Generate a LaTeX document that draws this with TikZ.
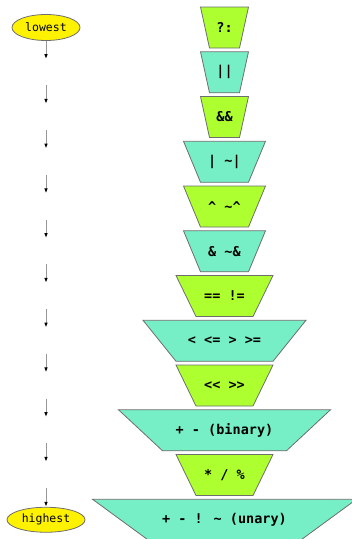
\documentclass[tikz,border=0pt]{standalone}
\usepackage{fontspec}
\usetikzlibrary{shapes.geometric,arrows.meta}
\newfontfamily\monofont{DejaVu Sans Mono}
\definecolor{gy}{RGB}{173,255,47}
\definecolor{aq}{RGB}{118,238,198}
\definecolor{edgec}{RGB}{110,110,110}
\definecolor{linec}{RGB}{150,150,150}
\newcommand\optrap[6]{% name, top y, half top width, inset, colour, label
  \filldraw[fill=#5, draw=edgec, line width=0.8pt]
    (224.5-#3,#2) -- (224.5+#3,#2) -- (224.5+#3-#4,#2+41) -- (224.5-#3+#4,#2+41) -- cycle;
  \node[oplab] (#1) at (224.5,#2+20.5) {#6};}
\begin{document}
\begin{tikzpicture}[x=1pt,y=-1pt,
  oplab/.style={font=\monofont\bfseries\fontsize{13.5}{15}\selectfont, inner sep=0pt},
  endell/.style={ellipse, fill=yellow, draw=edgec, line width=0.8pt, inner sep=0pt,
    font=\monofont\fontsize{11.5}{13}\selectfont},
  hid/.style={inner sep=0pt, minimum width=0pt, minimum height=26pt},
  arr/.style={draw=linec, line width=1pt, -{Latex[length=5pt,width=3.6pt,color=black,fill=black]}}]
\useasboundingbox (0,0) rectangle (352,539);
\clip (0,0) rectangle (352,539);
% trapezoids
\optrap{t1}{7}{24}{9}{gy}{?:}
\optrap{t2}{51.75}{24}{9}{aq}{||}
\optrap{t3}{96.5}{24}{9}{gy}{\&\&}
\optrap{t4}{141.25}{41}{17}{aq}{| \textasciitilde|}
\optrap{t5}{186}{41}{17}{gy}{\textasciicircum\ \textasciitilde\textasciicircum}
\optrap{t6}{230.75}{41}{17}{aq}{\& \textasciitilde\&}
\optrap{t7}{275.5}{48.5}{20}{gy}{== !=}
\optrap{t8}{320.25}{81.5}{33}{aq}{< <= > >=}
\optrap{t9}{365}{48.5}{20}{gy}{<< >>}
\optrap{t10}{409.75}{106}{44}{aq}{+ - (binary)}
\optrap{t11}{454.5}{48.5}{20}{gy}{* / \%}
\optrap{t12}{499.25}{132}{56}{aq}{+ - ! \textasciitilde\ (unary)}
% left chain
\node[endell, minimum width=68pt, minimum height=26pt] (lowest) at (46,27.5) {lowest};
\node[hid] (h2) at (46,72.25) {};
\node[hid] (h3) at (46,117) {};
\node[hid] (h4) at (46,161.75) {};
\node[hid] (h5) at (46,206.5) {};
\node[hid] (h6) at (46,251.25) {};
\node[hid] (h7) at (46,296) {};
\node[hid] (h8) at (46,340.75) {};
\node[hid] (h9) at (46,385.5) {};
\node[hid] (h10) at (46,430.25) {};
\node[hid] (h11) at (46,475) {};
\node[endell, minimum width=78pt, minimum height=25pt] (highest) at (46,519.75) {highest};
\draw[arr] (lowest.south) -- (h2.north);
\draw[arr] (h2.south) -- (h3.north);
\draw[arr] (h3.south) -- (h4.north);
\draw[arr] (h4.south) -- (h5.north);
\draw[arr] (h5.south) -- (h6.north);
\draw[arr] (h6.south) -- (h7.north);
\draw[arr] (h7.south) -- (h8.north);
\draw[arr] (h8.south) -- (h9.north);
\draw[arr] (h9.south) -- (h10.north);
\draw[arr] (h10.south) -- (h11.north);
\draw[arr] (h11.south) -- (highest.north);
\end{tikzpicture}
\end{document}
